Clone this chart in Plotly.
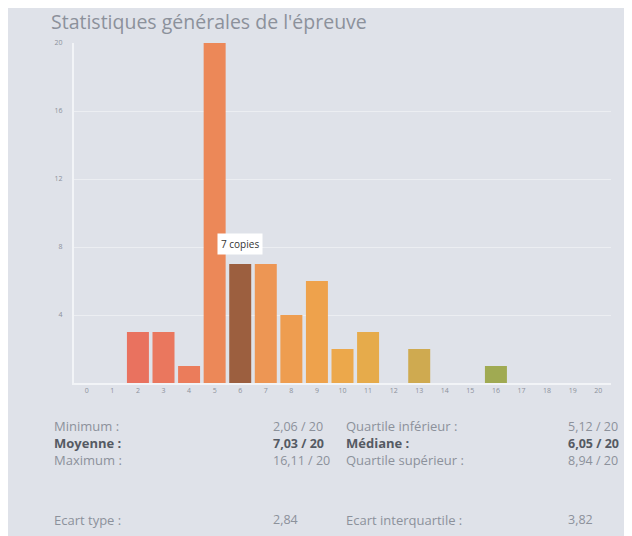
import plotly.graph_objects as go

# Data
notes = list(range(0, 21))
copies = [0, 0, 3, 3, 1, 20, 7, 7, 4, 6, 2, 3, 0, 2, 0, 0, 1, 0, 0, 0, 0]
bar_colors = ["#e8705e", "#e8705e", "#e9725f", "#ea775e", "#eb7c5b", "#ec8858",
              "#9c5f3f", "#ed9654", "#ee9d50", "#eea24c", "#eca84b", "#e6ab4b",
              "#dcab4c", "#cfaa50", "#c0aa52", "#b0aa52", "#a0aa52", "#90aa52",
              "#88aa52", "#80aa52", "#78aa52"]
y_ticks = [4, 8, 12, 16, 20]
title_text = "Statistiques générales de l'épreuve"
hover_label = "7 copies"
hover_note = 6

stats_left = [("Minimum :", "2,06 / 20", False), ("Moyenne :", "7,03 / 20", True),
              ("Maximum :", "16,11 / 20", False), ("Ecart type :", "2,84", False)]
stats_right = [("Quartile inférieur :", "5,12 / 20", False), ("Médiane :", "6,05 / 20", True),
               ("Quartile supérieur :", "8,94 / 20", False), ("Ecart interquartile :", "3,82", False)]
row_py = [426, 443, 460, 520]

# the page body has an 8px margin; figure sits at (8, 8)
OFF = 8
W, H = 624, 528
L, R, T, B = 66, 21, 35, 153
pw, ph = W - L - R, H - T - B

def px(x):
    return (x - OFF - L) / pw

def py(y):
    return (H - B - (y - OFF)) / ph

BG = "#dfe2e9"
GREY = "#8c919b"
DARK = "#555a63"
FONT = "Open Sans"

fig = go.Figure(go.Bar(x=notes, y=copies, marker=dict(color=bar_colors, line=dict(width=0)),
                       width=0.86))

ann = []
ann.append(dict(x=px(49), y=py(21), xref="paper", yref="paper", text=title_text,
                showarrow=False, xanchor="left", yanchor="middle",
                font=dict(family=FONT, size=19.5, color=GREY)))
ann.append(dict(x=hover_note, y=copies[hover_note], xref="x", yref="y", text=hover_label,
                showarrow=False, yanchor="bottom", yshift=9, bgcolor="white",
                borderpad=3, font=dict(family=FONT, size=10, color="#333")))
for col_lab_x, col_val_x, stats in ((52, 271, stats_left), (344, 566, stats_right)):
    for (lab, val, bold), yy in zip(stats, row_py):
        c = DARK if bold else GREY
        lt = f"<b>{lab}</b>" if bold else lab
        vt = f"<b>{val}</b>" if bold else val
        ann.append(dict(x=px(col_lab_x), y=py(yy), xref="paper", yref="paper", text=lt,
                        showarrow=False, xanchor="left", yanchor="middle",
                        font=dict(family=FONT, size=13, color=c)))
        ann.append(dict(x=px(col_val_x), y=py(yy), xref="paper", yref="paper", text=vt,
                        showarrow=False, xanchor="left", yanchor="middle",
                        font=dict(family=FONT, size=12.5, color=c)))

fig.update_layout(
    width=W, height=H, margin=dict(l=L, r=R, t=T, b=B),
    paper_bgcolor=BG, plot_bgcolor=BG, showlegend=False,
    annotations=ann,
    xaxis=dict(range=[-0.5, 20.5], tickvals=notes, ticktext=[str(n) for n in notes],
               showgrid=False, showline=True, linecolor="#f2f4f7", linewidth=2,
               tickfont=dict(family=FONT, size=7, color=GREY), ticks="", zeroline=False,
               fixedrange=True),
    yaxis=dict(range=[0, 20], tickvals=y_ticks, showgrid=True, gridcolor="#eceef2", gridwidth=1,
               showline=True, linecolor="#f2f4f7", linewidth=2, zeroline=False,
               tickfont=dict(family=FONT, size=7, color=GREY), ticks="", ticklabelstandoff=8,
               fixedrange=True),
    font=dict(family=FONT),
)

fig.write_html("out.html")
